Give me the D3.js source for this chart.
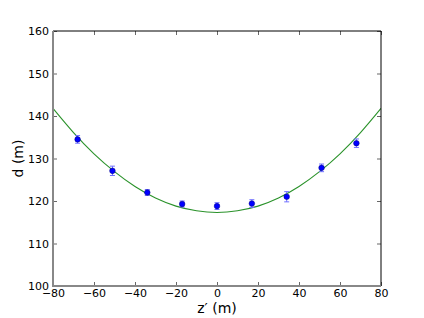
<!DOCTYPE html>
<html><head><meta charset="utf-8">
<script src="https://cdn.jsdelivr.net/npm/d3@7/dist/d3.min.js"></script>
<style>body{margin:0;background:#fff;} text{font-family:"DejaVu Sans",sans-serif;}</style>
</head><body>
<svg id="c" width="424" height="318"></svg>
<script>
// Measured points
const zValues = [-68, -51, -34, -17, 0, 17, 34, 51, 68];
const dValues = [134.5, 127.1, 122.0, 119.3, 118.8, 119.4, 121.0, 127.8, 133.6];
const dErrors = [0.9, 1.1, 0.7, 0.7, 0.8, 0.9, 1.2, 0.9, 1.0];
// Fit curve
const fitZ = [-80, -70, -60, -50, -40, -30, -20, -10, 0, 10, 20, 30, 40, 50, 60, 70, 80];
const fitD = [141.8, 136.1, 131.1, 126.9, 123.4, 120.7, 118.8, 117.7, 117.3, 117.7, 118.8, 120.7, 123.4, 126.9, 131.1, 136.1, 141.8];
const xTicks = [-80, -60, -40, -20, 0, 20, 40, 60, 80];
const yTicks = [100, 110, 120, 130, 140, 150, 160];

const L = 53, R = 381, T = 31, B = 286;
const svg = d3.select("#c");
const x = d3.scaleLinear().domain([-80, 80]).range([L, R]);
const y = d3.scaleLinear().domain([100, 160]).range([B, T]);

svg.append("defs").append("clipPath").attr("id", "clip")
  .append("rect").attr("x", L).attr("y", T).attr("width", R - L).attr("height", B - T);

// fit line
const line = d3.line().x((d, i) => x(fitZ[i])).y(d => y(d)).curve(d3.curveNatural);
svg.append("path").datum(fitD).attr("d", line).attr("fill", "none")
  .attr("stroke", "#2a922a").attr("stroke-width", 1.1).attr("clip-path", "url(#clip)");

// error bars
const eb = svg.append("g").attr("stroke", "#7070ff").attr("stroke-width", 1);
zValues.forEach((z, i) => {
  const cx = x(z), y1 = y(dValues[i] - dErrors[i]), y2 = y(dValues[i] + dErrors[i]);
  eb.append("line").attr("x1", cx).attr("x2", cx).attr("y1", y1).attr("y2", y2);
  eb.append("line").attr("x1", cx - 2.5).attr("x2", cx + 2.5).attr("y1", y1).attr("y2", y1);
  eb.append("line").attr("x1", cx - 2.5).attr("x2", cx + 2.5).attr("y1", y2).attr("y2", y2);
});
svg.append("g").selectAll("circle").data(zValues).join("circle")
  .attr("cx", d => x(d)).attr("cy", (d, i) => y(dValues[i])).attr("r", 2.8)
  .attr("fill", "#0000ff").attr("stroke", "#00007f").attr("stroke-width", 0.5);

// axes
const fmt = d => d < 0 ? "\u2212" + Math.abs(d) : String(d);
const xb = svg.append("g").attr("transform", `translate(0,${B})`)
  .call(d3.axisBottom(x).tickValues(xTicks).tickFormat(fmt).tickSizeInner(-4).tickSizeOuter(0).tickPadding(3.5));
const xt = svg.append("g").attr("transform", `translate(0,${T})`)
  .call(d3.axisTop(x).tickValues(xTicks).tickFormat("").tickSizeInner(-4).tickSizeOuter(0));
const yl = svg.append("g").attr("transform", `translate(${L},0)`)
  .call(d3.axisLeft(y).tickValues(yTicks).tickFormat(fmt).tickSizeInner(-4).tickSizeOuter(0).tickPadding(4));
const yr = svg.append("g").attr("transform", `translate(${R},0)`)
  .call(d3.axisRight(y).tickValues(yTicks).tickFormat("").tickSizeInner(-4).tickSizeOuter(0));
[xb, xt, yl, yr].forEach(g => {
  g.select(".domain").remove();
  g.selectAll(".tick line").attr("stroke", "#000").attr("stroke-width", 0.6);
  g.selectAll("text").attr("font-size", 11).attr("fill", "#000");
});
// spines
svg.append("line").attr("x1", L).attr("x2", R).attr("y1", T).attr("y2", T).attr("stroke", "#000").attr("stroke-width", 1);
svg.append("line").attr("x1", R).attr("x2", R).attr("y1", T).attr("y2", B).attr("stroke", "#000").attr("stroke-width", 1);
svg.append("line").attr("x1", L).attr("x2", R).attr("y1", B).attr("y2", B).attr("stroke", "#888").attr("stroke-width", 2);
svg.append("line").attr("x1", L).attr("x2", L).attr("y1", T).attr("y2", B + 1).attr("stroke", "#888").attr("stroke-width", 2);

// labels
svg.append("text").attr("x", (L + R) / 2).attr("y", 313).attr("text-anchor", "middle")
  .attr("font-size", 14).text("z\u2032 (m)");
svg.append("text").attr("transform", `translate(23,${(T + B) / 2}) rotate(-90)`)
  .attr("text-anchor", "middle").attr("font-size", 14).text("d (m)");
</script>
</body></html>
